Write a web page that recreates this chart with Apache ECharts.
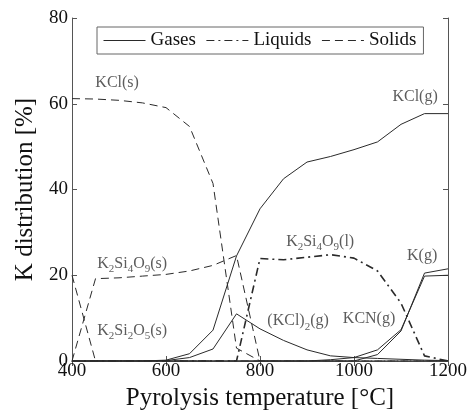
<!DOCTYPE html>
<html>
<head>
<meta charset="utf-8">
<script src="https://cdn.jsdelivr.net/npm/echarts@6/dist/echarts.min.js"></script>
<style>
html,body{margin:0;padding:0;background:#fff;}
#c{width:469px;height:411px;}
</style>
</head>
<body>
<div id="c"></div>
<script>
// Pyrolysis temperature [°C]
var temps = [400,450,500,550,600,650,700,750,800,850,900,950,1000,1050,1100,1150,1200];
// Gases
var kclG   = [0,0,0,0,0.2,1.7,7.2,24.5,35.5,42.5,46.4,47.7,49.3,51.1,55.2,57.7,57.7];
var kcl2G  = [0,0,0,0,0.1,0.8,2.8,11.0,7.5,4.8,2.6,1.2,0.8,0.6,0.4,0.2,0.1];
var kcnG   = [0,0,0,0,0,0,0,0,0,0,0,0.3,0.8,2.6,7.3,19.8,20.0];
var kG     = [0,0,0,0,0,0,0,0,0,0,0,0,0,1.5,7.0,20.5,21.5];
// Liquids
var k2si4o9L = [0,0,0,0,0,0,0,0,23.9,23.6,24.2,24.8,24.0,21.0,13.5,1.2,0];
// Solids
var kclS     = [61.2,61.1,60.8,60.2,59.1,54.7,41.4,3.0,0,0,0,0,0,0,0,0,0];
var k2si4o9S = [0,19.2,19.4,19.8,20.2,21.0,22.3,24.6,0,0,0,0,0,0,0,0,0];
var k2si2o5S = [20.0,0,0,0,0,0,0,0,0,0,0,0,0,0,0,0,0];
// Annotations
var labelX = [496, 1130, 528, 528, 928, 1145, 881, 1032];
var labelY = [64.8, 61.6, 22.6, 7.0, 27.8, 24.5, 9.3, 9.8];
var labelText = ['KCl(s)','KCl(g)','K{s|2}Si{s|4}O{s|9}(s)','K{s|2}Si{s|2}O{s|5}(s)','K{s|2}Si{s|4}O{s|9}(l)','K(g)','(KCl){s|2}(g)','KCN(g)'];
var xTicks = [400,600,800,1000,1200];
var yTicks = [0,20,40,60,80];
var legendNames = ['Gases','Liquids','Solids'];

function pairs(ys){ return temps.map(function(t,i){ return [t, ys[i]]; }); }

var FONT = '"Liberation Serif", "DejaVu Serif", serif';
var LC = '#2a2a2a';
function lineSeries(name, ys, type, width){
  return {
    name: name, type: 'line', data: pairs(ys), symbol: 'none', silent: true,
    lineStyle: {color: LC, width: width || 1, type: type},
    itemStyle: {color: LC},
    animation: false
  };
}
var solidDash = [8,5];
var dashDot = [8,4,2,4];

var series = [
  lineSeries(legendNames[0], kclG, 'solid'),
  lineSeries(legendNames[0], kcl2G, 'solid'),
  lineSeries(legendNames[0], kcnG, 'solid'),
  lineSeries(legendNames[0], kG, 'solid'),
  lineSeries(legendNames[1], k2si4o9L, dashDot, 1.6),
  lineSeries(legendNames[2], kclS, solidDash),
  lineSeries(legendNames[2], k2si4o9S, solidDash),
  lineSeries(legendNames[2], k2si2o5S, solidDash),
  {
    name: 'labels', type: 'scatter', symbolSize: 0, silent: true, animation: false,
    data: labelX.map(function(x,i){ return {value:[x, labelY[i]], name: labelText[i]}; }),
    label: {
      show: true, position: 'inside', formatter: function(p){ return p.name; },
      color: '#333', fontFamily: FONT, fontSize: 16, lineHeight: 22,
      rich: { s: {fontSize: 11, fontFamily: FONT, color: '#333', verticalAlign: 'bottom', lineHeight: 12} }
    }
  }
];

var axisLineStyle = {color: '#555', width: 1};
function plain(v){ return String(v); }
var chart = echarts.init(document.getElementById('c'), null, {renderer: 'canvas'});
chart.setOption({
  backgroundColor: '#fff',
  animation: false,
  grid: {left: 72, right: 21, top: 18, bottom: 50, outerBoundsMode: 'none', containLabel: false},
  legend: {
    data: legendNames, left: 97, top: 27,
    padding: [4, 7, 4, 6], itemWidth: 42, itemHeight: 14, itemGap: 10,
    borderColor: '#666', borderWidth: 1, backgroundColor: '#fff',
    itemStyle: {opacity: 0, borderWidth: 0},
    lineStyle: {width: 1},
    textStyle: {fontFamily: FONT, fontSize: 19, color: '#111'},
    selectedMode: false
  },
  xAxis: [{
    type: 'value', min: xTicks[0], max: xTicks[xTicks.length-1], interval: 200,
    name: 'Pyrolysis temperature [°C]', nameLocation: 'middle', nameGap: 25,
    nameTextStyle: {fontFamily: FONT, fontSize: 25, color: '#111'},
    axisLine: {show: true, lineStyle: axisLineStyle},
    axisTick: {show: true, inside: true, length: 5, lineStyle: axisLineStyle},
    axisLabel: {fontFamily: FONT, fontSize: 19, color: '#111', margin: 1, formatter: plain},
    splitLine: {show: false}
  },{
    type: 'value', position: 'top', min: xTicks[0], max: xTicks[xTicks.length-1], interval: 200,
    axisLine: {show: true, lineStyle: axisLineStyle},
    axisTick: {show: true, inside: true, length: 5, lineStyle: axisLineStyle},
    axisLabel: {show: false}, splitLine: {show: false}
  }],
  yAxis: [{
    type: 'value', min: yTicks[0], max: yTicks[yTicks.length-1], interval: 20,
    name: 'K distribution [%]', nameLocation: 'middle', nameGap: 31,
    nameTextStyle: {fontFamily: FONT, fontSize: 25, color: '#111'},
    axisLine: {show: true, lineStyle: axisLineStyle},
    axisTick: {show: true, inside: true, length: 5, lineStyle: axisLineStyle},
    axisLabel: {fontFamily: FONT, fontSize: 19, color: '#111', margin: 4, formatter: plain},
    splitLine: {show: false}
  },{
    type: 'value', position: 'right', min: yTicks[0], max: yTicks[yTicks.length-1], interval: 20,
    axisLine: {show: true, lineStyle: axisLineStyle},
    axisTick: {show: true, inside: true, length: 5, lineStyle: axisLineStyle},
    axisLabel: {show: false}, splitLine: {show: false}
  }],
  series: series
});
</script>
</body>
</html>
